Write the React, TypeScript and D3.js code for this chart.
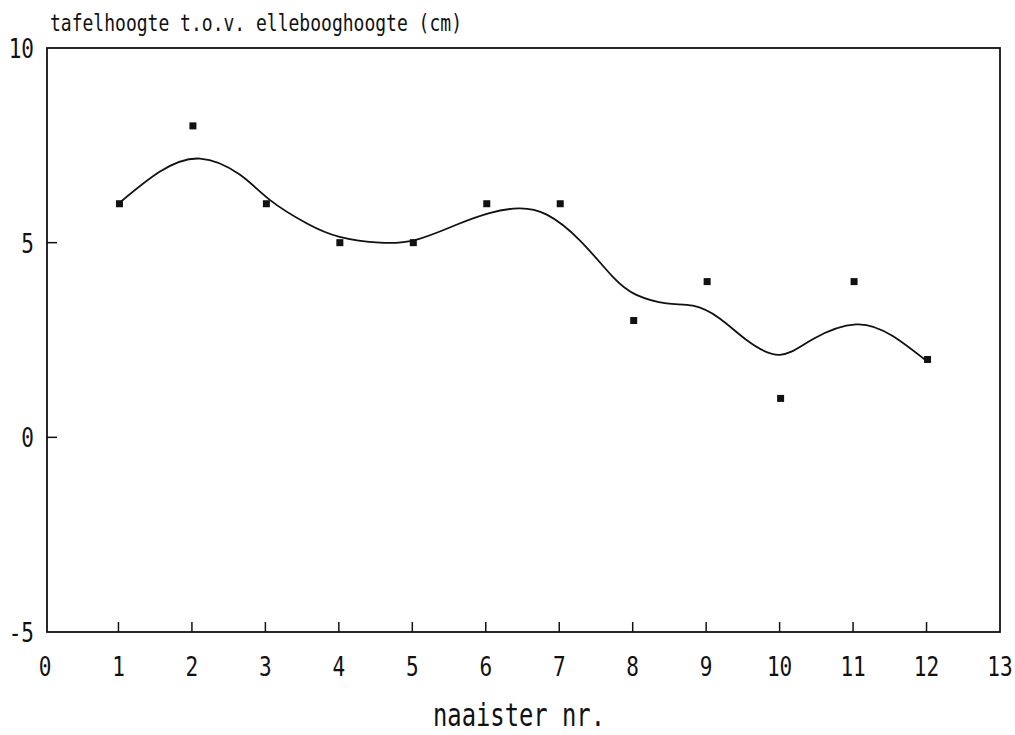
import React, { useEffect, useRef } from 'react';
import * as d3 from 'd3';

// naaister nummers en gemeten waarden
const naaisters = [1, 2, 3, 4, 5, 6, 7, 8, 9, 10, 11, 12];
const hoogte = [6, 8, 6, 5, 5, 6, 6, 3, 4, 1, 4, 2];

const curveX = [1.0, 1.56, 2.11, 2.65, 3.06, 3.56, 4.01, 4.56, 5.06, 5.6, 6.05, 6.45, 6.83, 7.28, 7.73, 8.05, 8.46, 8.82, 9.18, 9.55, 10.0, 10.45, 11.04, 11.54, 12.02];
const curveY = [6.0, 6.82, 7.16, 6.75, 6.1, 5.5, 5.15, 5.0, 5.08, 5.46, 5.76, 5.88, 5.72, 5.06, 4.12, 3.66, 3.44, 3.38, 3.06, 2.5, 2.12, 2.52, 2.9, 2.6, 1.93];

const xTicks = [0, 1, 2, 3, 4, 5, 6, 7, 8, 9, 10, 11, 12, 13];
const yTicks = [-5, 0, 5, 10];

const W = 1015;
const H = 735;
const font = '"DejaVu Sans Mono", "Liberation Mono", monospace';

const App = () => {
    const svgRef = useRef<SVGSVGElement>(null);

    useEffect(() => {
        const svg = d3.select(svgRef.current);
        svg.selectAll('*').remove();

        const x = d3.scaleLinear().domain([0, 13]).range([45, 1000]);
        const y = d3.scaleLinear().domain([-5, 10]).range([632, 48]);

        // frame
        svg.append('rect')
            .attr('x', x(0) + 2).attr('y', y(10))
            .attr('width', x(13) - x(0) - 2).attr('height', y(-5) - y(10))
            .attr('fill', 'none').attr('stroke', '#111').attr('stroke-width', 1.8);

        // x ticks (inward)
        svg.append('g').selectAll('line')
            .data(xTicks.filter(t => t > 0 && t < 13))
            .join('line')
            .attr('x1', d => x(d)).attr('x2', d => x(d))
            .attr('y1', y(-5)).attr('y2', y(-5) - 10)
            .attr('stroke', '#111').attr('stroke-width', 1.5);

        svg.append('g').selectAll('text')
            .data(xTicks)
            .join('text')
            .attr('transform', d => `translate(${x(d)},676) scale(0.78,1)`)
            .attr('text-anchor', 'middle')
            .attr('font-family', font).attr('font-size', 27)
            .attr('fill', '#111')
            .text(d => d);

        // y ticks (inward)
        svg.append('g').selectAll('line')
            .data(yTicks.filter(t => t > -5 && t < 10))
            .join('line')
            .attr('x1', x(0) + 2).attr('x2', x(0) + 12)
            .attr('y1', d => y(d)).attr('y2', d => y(d))
            .attr('stroke', '#111').attr('stroke-width', 1.5);

        svg.append('g').selectAll('text')
            .data(yTicks)
            .join('text')
            .attr('transform', d => `translate(34,${y(d) + 10}) scale(0.78,1)`)
            .attr('text-anchor', 'end')
            .attr('font-family', font).attr('font-size', 27)
            .attr('fill', '#111')
            .text(d => d);

        // curve
        const pts: [number, number][] = curveX.map((v, i) => [v, curveY[i]]);
        const line = d3.line<[number, number]>()
            .x(d => x(d[0])).y(d => y(d[1]))
            .curve(d3.curveNatural);
        svg.append('path')
            .attr('d', line(pts))
            .attr('fill', 'none').attr('stroke', '#111').attr('stroke-width', 1.8);

        // data points
        svg.append('g').selectAll('rect')
            .data(naaisters)
            .join('rect')
            .attr('x', (d) => x(d) + 1 - 3.5)
            .attr('y', (d, i) => y(hoogte[i]) - 3.5)
            .attr('width', 7).attr('height', 7)
            .attr('fill', '#111');

        // titles
        svg.append('text')
            .attr('x', 50).attr('y', 31)
            .attr('font-family', font).attr('font-size', 23)
            .attr('textLength', 412).attr('lengthAdjust', 'spacingAndGlyphs')
            .attr('fill', '#111')
            .text('tafelhoogte t.o.v. ellebooghoogte (cm)');

        svg.append('text')
            .attr('x', 433).attr('y', 726)
            .attr('font-family', font).attr('font-size', 32)
            .attr('textLength', 172).attr('lengthAdjust', 'spacingAndGlyphs')
            .attr('fill', '#111')
            .text('naaister nr.');
    }, []);

    return (
        <svg ref={svgRef} width={W} height={H}
            style={{ position: 'absolute', left: 0, top: 0, background: '#fff' }} />
    );
};

export default App;
